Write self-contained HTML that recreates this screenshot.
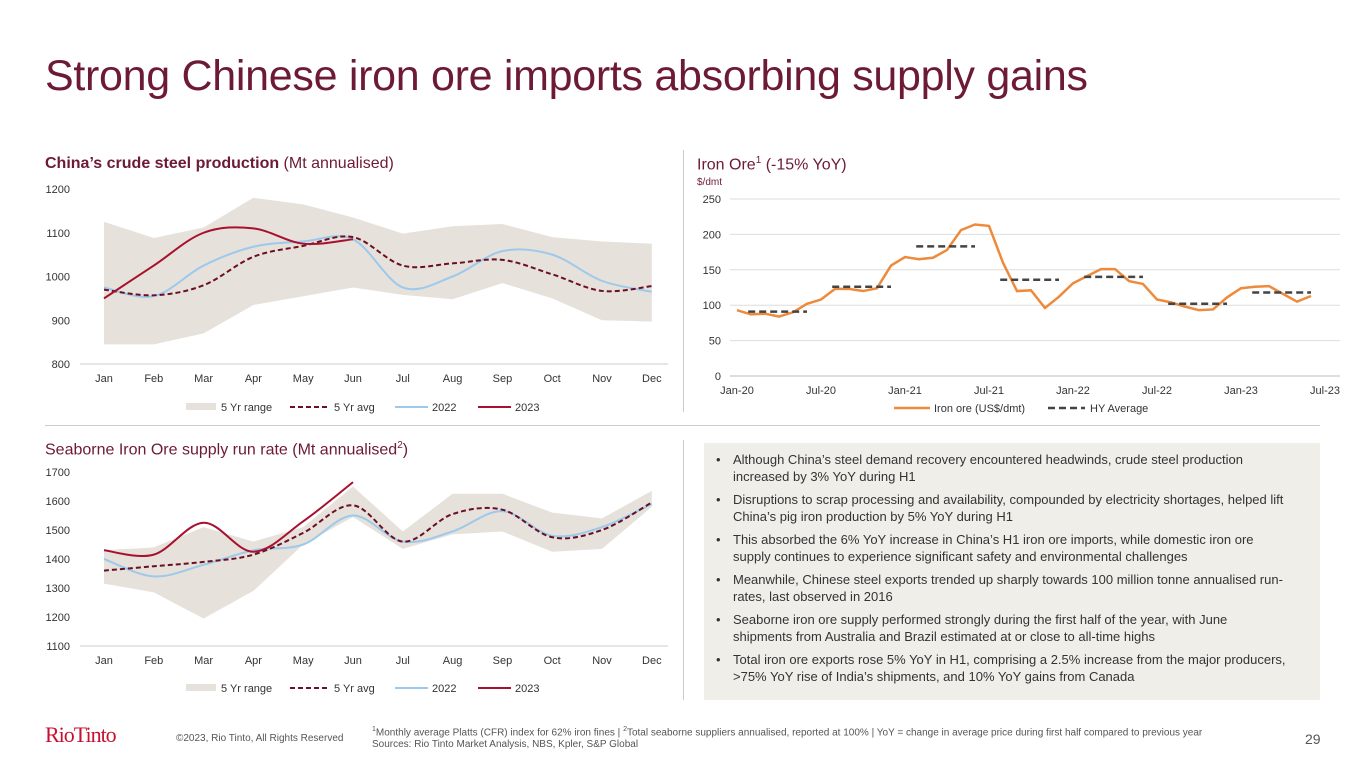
<!DOCTYPE html><html><head><meta charset="utf-8"><style>
body{margin:0;width:1365px;height:768px;background:#fff;font-family:"Liberation Sans",sans-serif;position:relative;overflow:hidden}
.a{position:absolute}
h1{position:absolute;left:45px;top:52px;margin:0;font-weight:normal;font-size:43px;color:#6d1a36;letter-spacing:-0.3px}
.t{font-size:16px;color:#6d1a36}
.box{left:704px;top:443px;width:616px;height:257px;background:#f0eee9}
.box ul{margin:0;padding:8px 32px 0 29px;font-size:13px;color:#333;line-height:17px}
.box li{margin-bottom:6px;list-style:none;position:relative}
.box li:before{content:"•";position:absolute;left:-17px}
svg text{font-family:"Liberation Sans",sans-serif;font-size:11px;fill:#333}
</style></head><body>
<h1>Strong Chinese iron ore imports absorbing supply gains</h1>
<div class="a t" style="left:45px;top:155px"><b>China’s crude steel production</b> (Mt annualised)</div>
<div class="a t" style="left:697px;top:155px">Iron Ore<sup style="font-size:10px">1</sup> (-15% YoY)</div>
<div class="a" style="left:697px;top:177px;font-size:10px;color:#6d1a36">$/dmt</div>
<div class="a t" style="left:45px;top:440px">Seaborne Iron Ore supply run rate (Mt annualised<sup style="font-size:10px">2</sup>)</div>
<div class="a" style="left:45px;top:425px;width:1275px;height:1px;background:#ccc"></div>
<div class="a" style="left:683px;top:150px;width:1px;height:262px;background:#ccc"></div>
<div class="a" style="left:683px;top:440px;width:1px;height:260px;background:#ccc"></div>
<div class="a box"><ul>
<li>Although China’s steel demand recovery encountered headwinds, crude steel production increased by 3% YoY during H1</li>
<li>Disruptions to scrap processing and availability, compounded by electricity shortages, helped lift China’s pig iron production by 5% YoY during H1</li>
<li>This absorbed the 6% YoY increase in China’s H1 iron ore imports, while domestic iron ore supply continues to experience significant safety and environmental challenges</li>
<li>Meanwhile, Chinese steel exports trended up sharply towards 100 million tonne annualised run-rates, last observed in 2016</li>
<li>Seaborne iron ore supply performed strongly during the first half of the year, with June shipments from Australia and Brazil estimated at or close to all-time highs</li>
<li>Total iron ore exports rose 5% YoY in H1, comprising a 2.5% increase from the major producers, &gt;75% YoY rise of India’s shipments, and 10% YoY gains from Canada</li></ul></div>
<div class="a" style="left:45px;top:722px;font-family:'Liberation Serif',serif;font-size:22px;color:#c8102e;letter-spacing:-1px">RioTinto</div>
<div class="a" style="left:176px;top:733px;font-size:10px;color:#555">©2023, Rio Tinto, All Rights Reserved</div>
<div class="a" style="left:372px;top:724px;font-size:10px;color:#555;line-height:12px"><sup style="font-size:7px">1</sup>Monthly average Platts (CFR) index for 62% iron fines | <sup style="font-size:7px">2</sup>Total seaborne suppliers annualised, reported at 100% | YoY = change in average price during first half compared to previous year<br>Sources: Rio Tinto Market Analysis, NBS, Kpler, S&amp;P Global</div>
<div class="a" style="left:1305px;top:731px;font-size:14px;color:#555">29</div>
<svg class="a" style="left:0;top:0" width="1365" height="768" id="s"></svg>
<script>
var s=document.getElementById('s'),h='';
var M=['Jan','Feb','Mar','Apr','May','Jun','Jul','Aug','Sep','Oct','Nov','Dec'];
function mx(i){return 104+i*49.8}
function sm(p){var d='M'+p[0][0]+','+p[0][1];for(var i=0;i<p.length-1;i++){var a=p[i-1]||p[i],b=p[i],c=p[i+1],e=p[i+2]||c;d+=' C'+(b[0]+(c[0]-a[0])/6)+','+(b[1]+(c[1]-a[1])/6)+' '+(c[0]-(e[0]-b[0])/6)+','+(c[1]-(e[1]-b[1])/6)+' '+c[0]+','+c[1];}return d}
function pts(v,f){return v.map(function(x,i){return [mx(i),f(x)]})}
function chart(y0,f,ticks,up,lo,avg,y22,y23,ly){
 ticks.forEach(function(t){h+='<text x="70" y="'+(f(t)+4)+'" text-anchor="end">'+t+'</text>'});
 h+='<line x1="80" x2="668" y1="'+f(ticks[ticks.length-1])+'" y2="'+f(ticks[ticks.length-1])+'" stroke="#ccc"/>';
 var U=pts(up,f),L=pts(lo,f);
 h+='<polygon fill="#e6e1da" points="'+U.concat(L.reverse()).map(function(p){return p.join(',')}).join(' ')+'"/>';
 h+='<path d="'+sm(pts(y22,f))+'" fill="none" stroke="#9dc9ec" stroke-width="2"/>';
 h+='<path d="'+sm(pts(avg,f))+'" fill="none" stroke="#6b0f24" stroke-width="2" stroke-dasharray="5,3"/>';
 h+='<path d="'+sm(pts(y23,f))+'" fill="none" stroke="#a8102f" stroke-width="2"/>';
 M.forEach(function(m,i){h+='<text x="'+mx(i)+'" y="'+(f(ticks[ticks.length-1])+18)+'" text-anchor="middle">'+m+'</text>'});
 h+='<rect x="186" y="'+(ly-4)+'" width="30" height="7" fill="#e6e1da"/><text x="221" y="'+(ly+4)+'">5 Yr range</text>';
 h+='<line x1="290" x2="330" y1="'+ly+'" y2="'+ly+'" stroke="#6b0f24" stroke-width="2" stroke-dasharray="5,3"/><text x="334" y="'+(ly+4)+'">5 Yr avg</text>';
 h+='<line x1="395" x2="428" y1="'+ly+'" y2="'+ly+'" stroke="#9dc9ec" stroke-width="2"/><text x="432" y="'+(ly+4)+'">2022</text>';
 h+='<line x1="478" x2="511" y1="'+ly+'" y2="'+ly+'" stroke="#a8102f" stroke-width="2"/><text x="515" y="'+(ly+4)+'">2023</text>';
}
var f1=function(v){return 364-(v-800)*0.4375};
chart(0,f1,[1200,1100,1000,900,800],[1125,1088,1112,1180,1165,1135,1098,1115,1120,1090,1080,1075],[845,845,870,935,955,975,958,948,985,950,900,897],[970,957,980,1045,1070,1090,1025,1030,1038,1005,967,978],[975,955,1025,1068,1080,1085,975,1000,1058,1050,990,965],[950,1025,1100,1110,1075,1085],407);
var f3=function(v){return 646-(v-1100)*0.29};
chart(0,f3,[1700,1600,1500,1400,1300,1200,1100],[1430,1440,1510,1460,1510,1650,1495,1625,1625,1560,1540,1635],[1315,1285,1195,1290,1450,1545,1435,1485,1495,1425,1435,1580],[1360,1375,1390,1415,1490,1585,1460,1555,1570,1475,1500,1595],[1400,1340,1380,1430,1450,1550,1460,1495,1565,1480,1510,1590],[1430,1415,1525,1425,1530,1665],688);
var g=function(v){return 376-v*0.708},X=function(m){return 737+m*14};
[0,50,100,150,200,250].forEach(function(t){h+='<line x1="730" x2="1340" y1="'+g(t)+'" y2="'+g(t)+'" stroke="'+(t?'#ddd':'#bbb')+'"/><text x="721" y="'+(g(t)+4)+'" text-anchor="end">'+t+'</text>'});
['Jan-20','Jul-20','Jan-21','Jul-21','Jan-22','Jul-22','Jan-23','Jul-23'].forEach(function(l,i){h+='<text x="'+X(i*6)+'" y="394" text-anchor="middle">'+l+'</text>'});
var d=[93,87,88,84,90,102,108,123,123,120,124,156,168,165,167,178,206,214,212,160,120,121,96,112,131,141,151,151,134,130,108,104,98,93,94,111,124,126,127,116,105,113];
h+='<polyline fill="none" stroke="#ee8a3b" stroke-width="2.5" points="'+d.map(function(v,i){return X(i)+','+g(v)}).join(' ')+'"/>';
[91,126,183,136,140,102,118].forEach(function(v,i){h+='<line x1="'+X(i*6+0.8)+'" x2="'+X(i*6+5)+'" y1="'+g(v)+'" y2="'+g(v)+'" stroke="#444" stroke-width="2.5" stroke-dasharray="7,4"/>'});
h+='<line x1="894" x2="930" y1="408" y2="408" stroke="#ee8a3b" stroke-width="2.5"/><text x="934" y="412">Iron ore (US$/dmt)</text>';
h+='<line x1="1048" x2="1085" y1="408" y2="408" stroke="#444" stroke-width="2.5" stroke-dasharray="7,4"/><text x="1090" y="412">HY Average</text>';
s.innerHTML=h;
</script></body></html>
